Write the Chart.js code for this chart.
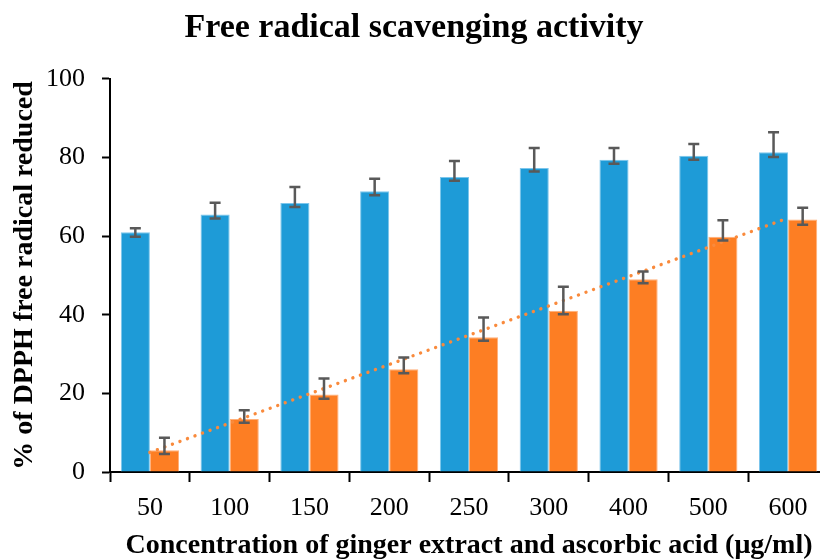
<!DOCTYPE html>
<html>
<head>
<meta charset="utf-8">
<style>
  html, body { margin: 0; padding: 0; background: #ffffff; overflow: hidden; }
  #wrap { position: relative; width: 840px; height: 559px; }
</style>
<script src="https://cdn.jsdelivr.net/npm/chart.js@4.4.1/dist/chart.umd.min.js"></script>
</head>
<body>
<div id="wrap"><canvas id="chart"></canvas></div>
<script>
// Concentrations tested (µg/ml)
const concentrations = ['50', '100', '150', '200', '250', '300', '400', '500', '600'];

// % DPPH reduced, blue series, with its upper / lower error amounts
const blueValues   = [61.0, 65.5, 68.4, 71.4, 75.0, 77.3, 79.4, 80.4, 81.3];
const blueErrUp    = [1.0, 3.0, 4.1, 3.2, 4.1, 5.1, 3.0, 3.0, 5.1];
const blueErrDown  = [1.2, 1.0, 1.0, 1.0, 0.9, 0.9, 1.0, 1.0, 1.2];

// % DPPH reduced, orange series, with its upper / lower error amounts
const orangeValues  = [5.5, 13.5, 19.7, 26.1, 34.3, 41.0, 49.0, 59.8, 64.2];
const orangeErrUp   = [3.2, 2.2, 4.1, 3.0, 5.0, 6.1, 2.0, 4.2, 3.0];
const orangeErrDown = [0.9, 1.0, 1.1, 1.0, 0.9, 0.9, 1.0, 0.9, 1.3];

// Y axis ticks
const yTicks = [0, 20, 40, 60, 80, 100];

// Least-squares linear trend through the orange series (by category index)
function linearTrend(values) {
  const n = values.length;
  let sx = 0, sy = 0, sxy = 0, sxx = 0;
  values.forEach((v, i) => { sx += i; sy += v; sxy += i * v; sxx += i * i; });
  const slope = (n * sxy - sx * sy) / (n * sxx - sx * sx);
  const intercept = (sy - slope * sx) / n;
  return values.map((_, i) => intercept + slope * i);
}
const orangeTrend = linearTrend(orangeValues);

const SERIF = '"Liberation Serif", "Times New Roman", serif';
const BLUE = '#1e9bd7';
const ORANGE = '#fd7e23';

// Draws vertical error bars with caps on top of each bar
const errorBarPlugin = {
  id: 'errorBars',
  afterDatasetsDraw(chart) {
    const ctx = chart.ctx;
    const y = chart.scales.y;
    ctx.save();
    ctx.strokeStyle = '#595959';
    ctx.lineWidth = 2.5;
    ctx.lineCap = 'butt';
    chart.data.datasets.forEach((ds, di) => {
      if (!ds.errUp) return;
      const meta = chart.getDatasetMeta(di);
      meta.data.forEach((bar, i) => {
        const x = bar.x;
        const top = y.getPixelForValue(ds.data[i] + ds.errUp[i]);
        const bot = y.getPixelForValue(ds.data[i] - ds.errDown[i]);
        const half = 5.5;
        ctx.beginPath();
        ctx.moveTo(x, top); ctx.lineTo(x, bot);
        ctx.moveTo(x - half, top); ctx.lineTo(x + half, top);
        ctx.moveTo(x - half, bot); ctx.lineTo(x + half, bot);
        ctx.stroke();
      });
    });
    ctx.restore();
  }
};

new Chart(document.getElementById('chart'), {
  type: 'bar',
  data: {
    labels: concentrations,
    datasets: [
      {
        type: 'line',
        data: orangeTrend,
        borderColor: '#f98a3c',
        borderWidth: 3.4,
        borderDash: [0.01, 8],
        borderCapStyle: 'round',
        pointRadius: 0,
        fill: false,
        tension: 0,
        order: 0
      },
      {
        data: blueValues,
        errUp: blueErrUp,
        errDown: blueErrDown,
        backgroundColor: BLUE,
        borderColor: '#7cc6ec',
        borderWidth: 1,
        order: 1
      },
      {
        data: orangeValues,
        errUp: orangeErrUp,
        errDown: orangeErrDown,
        backgroundColor: ORANGE,
        borderColor: '#ffb07a',
        borderWidth: 1,
        order: 1
      }
    ]
  },
  options: {
    responsive: true,
    maintainAspectRatio: false,
    animation: false,
    layout: { padding: { left: 0, right: 12, top: 0, bottom: 0 } },
    datasets: { bar: { categoryPercentage: 0.73, barPercentage: 1.0 } },
    plugins: {
      legend: { display: false },
      tooltip: { enabled: false },
      title: {
        display: true,
        text: 'Free radical scavenging activity',
        color: '#000',
        font: { family: SERIF, size: 34, weight: 'bold' },
        padding: { top: 8, bottom: 30 }
      }
    },
    scales: {
      x: {
        offset: true,
        grid: {
          display: true, offset: true, drawOnChartArea: false,
          drawTicks: true, tickLength: 10, tickColor: '#000', tickWidth: 2
        },
        border: { display: true, color: '#000', width: 2 },
        ticks: { color: '#000', padding: 11, font: { family: SERIF, size: 26 }, maxRotation: 0 },
        title: {
          display: true,
          text: 'Concentration of ginger extract and ascorbic acid (\u03bcg/ml)',
          color: '#000',
          font: { family: SERIF, size: 28, weight: 'bold' },
          padding: { top: 0, bottom: -4 }
        },
        afterFit(scale) { scale.height = 87; }
      },
      y: {
        min: 0,
        max: 100,
        afterBuildTicks(scale) { scale.ticks = yTicks.map(v => ({ value: v })); },
        grid: {
          display: true, drawOnChartArea: false,
          drawTicks: true, tickLength: 8, tickColor: '#000', tickWidth: 2
        },
        border: { display: true, color: '#000', width: 2 },
        ticks: { color: '#000', padding: 17, font: { family: SERIF, size: 26 } },
        title: {
          display: true,
          text: '% of DPPH free radical reduced',
          color: '#000',
          font: { family: SERIF, size: 28, weight: 'bold' },
          padding: { top: 8, bottom: 0 }
        },
        afterFit(scale) { scale.width = 110; }
      }
    }
  },
  plugins: [errorBarPlugin]
});
</script>
</body>
</html>
